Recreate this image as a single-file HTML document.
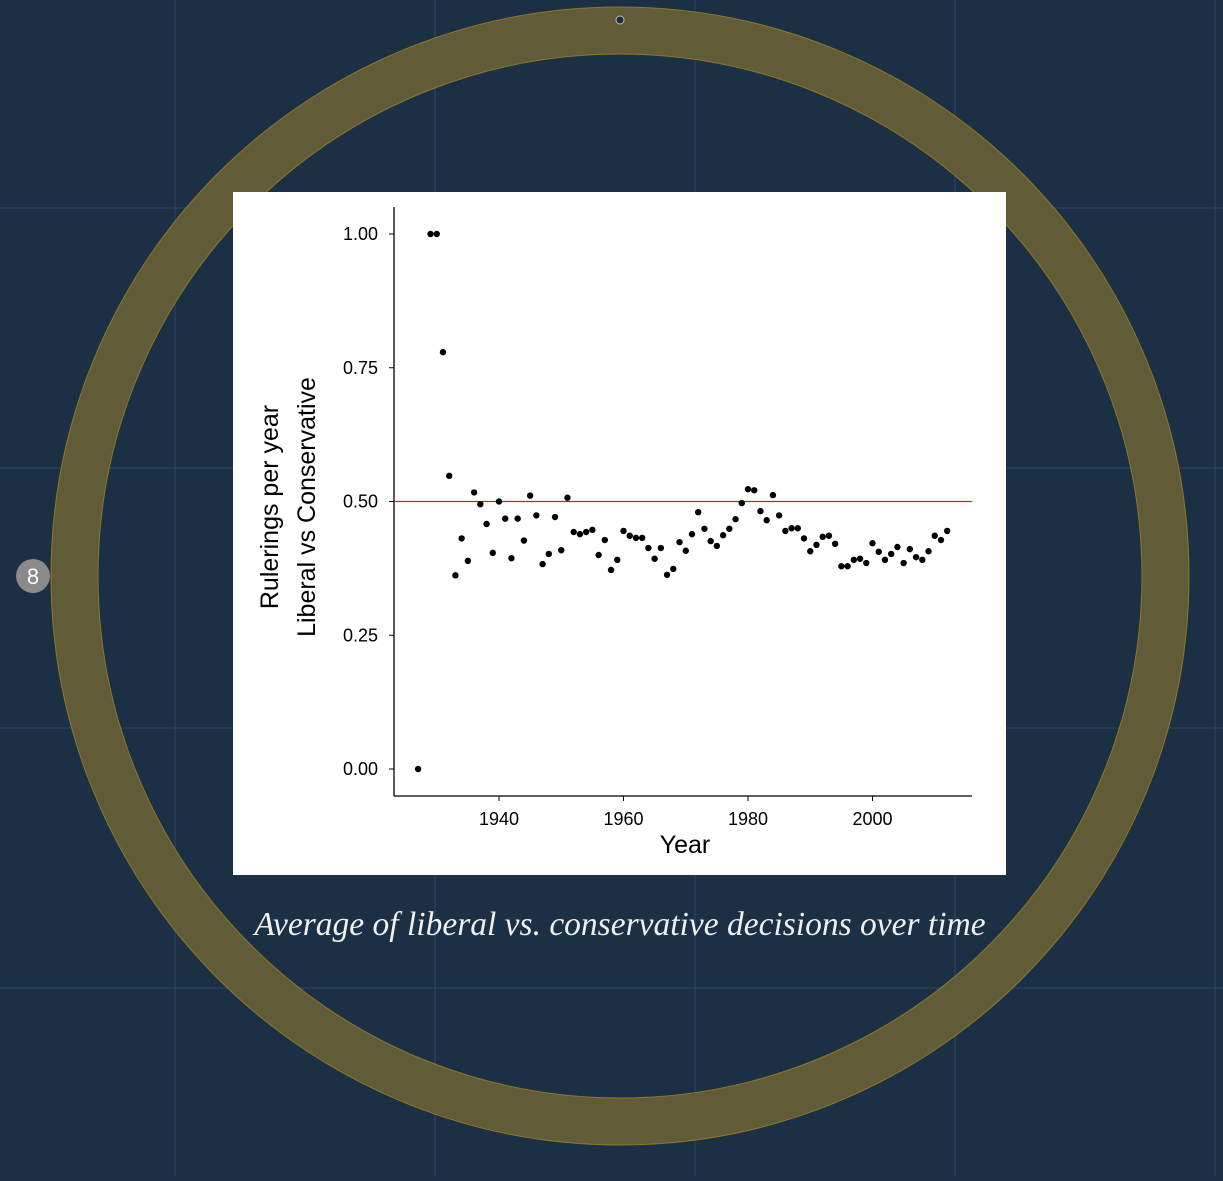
<!DOCTYPE html>
<html><head><meta charset="utf-8"><style>
body{margin:0;width:1223px;height:1176px;overflow:hidden;background:#1b2f45;font-family:"Liberation Sans",sans-serif}
</style></head><body>
<svg width="1223" height="1176" viewBox="0 0 1223 1176" xmlns="http://www.w3.org/2000/svg">
<g stroke="#2a4a66" stroke-width="1">
<line x1="175" y1="0" x2="175" y2="1176"/><line x1="435" y1="0" x2="435" y2="1176"/><line x1="695" y1="0" x2="695" y2="1176"/><line x1="955" y1="0" x2="955" y2="1176"/><line x1="1215" y1="0" x2="1215" y2="1176"/>
<line x1="0" y1="208" x2="1223" y2="208"/><line x1="0" y1="468" x2="1223" y2="468"/><line x1="0" y1="728" x2="1223" y2="728"/><line x1="0" y1="988" x2="1223" y2="988"/>
</g>
<circle cx="620" cy="576" r="545.5" fill="none" stroke="#615b37" stroke-width="47"/>
<circle cx="620" cy="576" r="569" fill="none" stroke="#8a7a2a" stroke-width="1"/>
<circle cx="620" cy="576" r="522" fill="none" stroke="#8a7a2a" stroke-width="1"/>
<circle cx="620" cy="20" r="4" fill="#1b2f45" stroke="#bbb" stroke-width="1"/>
<g><circle cx="33" cy="576" r="17" fill="#8a8a8a"/><text x="33" y="584" text-anchor="middle" fill="#fff" font-size="22">8</text></g>
<rect x="233" y="192" width="773" height="683" fill="#fff"/>
<g id="chart"></g>
<text x="620" y="935" text-anchor="middle" fill="#f0f0f0" font-family="Liberation Serif,serif" font-style="italic" font-size="33.5">Average of liberal vs. conservative decisions over time</text>
</svg>
<script>
const years=[1927,1929,1930,1931,1932,1933,1934,1935,1936,1937,1938,1939,1940,1941,1942,1943,1944,1945,1946,1947,1948,1949,1950,1951,1952,1953,1954,1955,1956,1957,1958,1959,1960,1961,1962,1963,1964,1965,1966,1967,1968,1969,1970,1971,1972,1973,1974,1975,1976,1977,1978,1979,1980,1981,1982,1983,1984,1985,1986,1987,1988,1989,1990,1991,1992,1993,1994,1995,1996,1997,1998,1999,2000,2001,2002,2003,2004,2005,2006,2007,2008,2009,2010,2011,2012];
const ratios=[0,1,1,0.779,0.548,0.362,0.431,0.389,0.517,0.495,0.458,0.404,0.5,0.468,0.394,0.468,0.427,0.511,0.474,0.383,0.402,0.471,0.409,0.507,0.443,0.439,0.443,0.447,0.4,0.428,0.372,0.391,0.445,0.436,0.432,0.432,0.413,0.393,0.413,0.363,0.374,0.424,0.408,0.439,0.48,0.449,0.426,0.417,0.437,0.449,0.467,0.497,0.523,0.521,0.482,0.465,0.512,0.474,0.445,0.45,0.45,0.431,0.407,0.419,0.434,0.436,0.421,0.379,0.379,0.391,0.393,0.385,0.422,0.406,0.391,0.402,0.415,0.385,0.411,0.396,0.391,0.407,0.436,0.428,0.445];
const yTicks=[0,0.25,0.5,0.75,1];
const yTickLabels=["0.00","0.25","0.50","0.75","1.00"];
const xTicks=[1940,1960,1980,2000];
const NS="http://www.w3.org/2000/svg";
const g=document.getElementById('chart');
const X=v=>499+(v-1940)*6.225, Y=v=>769-v*535;
function mk(t,a,p){const e=document.createElementNS(NS,t);for(const k in a)e.setAttribute(k,a[k]);(p||g).appendChild(e);return e;}
let e;
e=mk('line',{x1:394,y1:207,x2:394,y2:796,stroke:'#000','stroke-width':1.3});


e=mk('line',{x1:394,y1:796,x2:972,y2:796,stroke:'#000','stroke-width':1.3});


yTicks.forEach((v,i)=>{
 mk('line',{x1:389,y1:Y(v),x2:394,y2:Y(v),stroke:'#000'});
 e=mk('text',{x:378,y:Y(v)+6,'text-anchor':'end','font-size':18,fill:'#000'});e.textContent=yTickLabels[i];
 
 
});
xTicks.forEach(v=>{
 mk('line',{x1:X(v),y1:796,x2:X(v),y2:801,stroke:'#000'});
 e=mk('text',{x:X(v),y:825,'text-anchor':'middle','font-size':18,fill:'#000'});e.textContent=v;
 
 
});
e=mk('line',{x1:394,y1:Y(0.5),x2:972,y2:Y(0.5),stroke:'#c0272d','stroke-width':1.2});


years.forEach((yr,i)=>{
 e=mk('circle',{cx:X(yr),cy:Y(ratios[i]),r:3.2,fill:'#000'});
 
 
});
e=mk('text',{x:685,y:853,'text-anchor':'middle','font-size':25,fill:'#000'});e.textContent='Year';


e=mk('text',{transform:'translate(278,507) rotate(-90)','text-anchor':'middle','font-size':25,fill:'#000'});e.textContent='Rulerings per year';


e=mk('text',{transform:'translate(315,507) rotate(-90)','text-anchor':'middle','font-size':25,fill:'#000'});e.textContent='Liberal vs Conservative';


</script>
</body></html>
